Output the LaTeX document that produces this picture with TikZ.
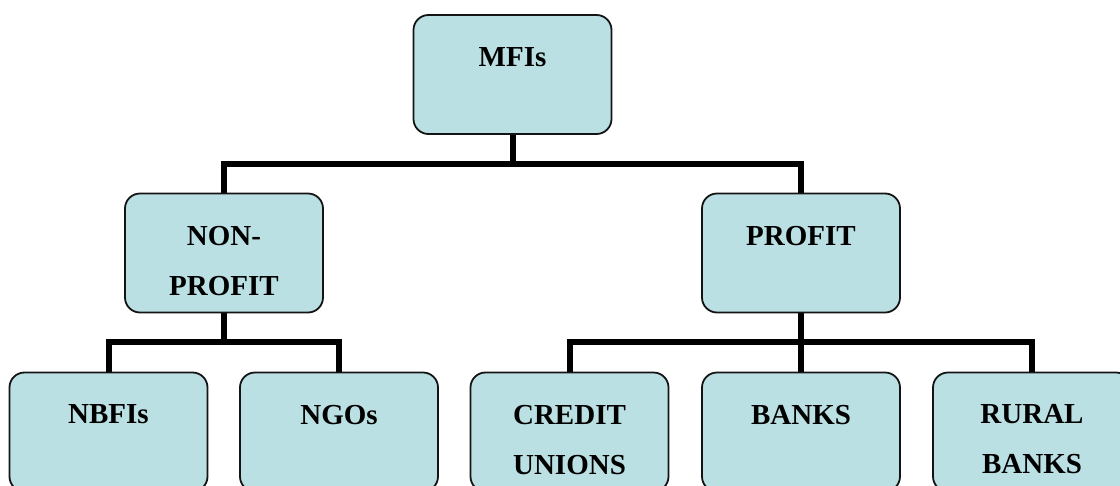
\documentclass[tikz,border=0pt]{standalone}
\usepackage{fontspec}
\setmainfont{Liberation Serif}
\definecolor{boxfill}{RGB}{187,224,227}
\definecolor{boxline}{RGB}{20,20,20}
\begin{document}
\begin{tikzpicture}[x=1pt,y=-1pt,
  orgbox/.style={draw=boxline, fill=boxfill, line width=1.8pt,
    rounded corners=15pt, minimum width=198pt, minimum height=119pt,
    inner sep=0pt},
  boxtext/.style={anchor=north, inner sep=0pt, align=center,
    font=\fontsize{29}{50}\selectfont\bfseries},
  link/.style={line width=6pt, line join=miter, black}]
  \useasboundingbox (0,0) rectangle (1120,485);
  \clip (0,0) rectangle (1120,485);

  % box centres
  \coordinate (c-mfi) at (512.5,74.5);
  \coordinate (c-np) at (224,253);
  \coordinate (c-pr) at (801,253);
  \coordinate (c-nb) at (108.5,432);
  \coordinate (c-ng) at (339,432);
  \coordinate (c-cu) at (569.5,432);
  \coordinate (c-bk) at (801,432);
  \coordinate (c-rb) at (1032,432);

  % junction points of the connectors
  \coordinate (j-top) at (512.5,163.5);
  \coordinate (j-left) at (224,342);
  \coordinate (j-right) at (801,342);

  % connectors (drawn first, boxes sit on top)
  \draw[link] (c-mfi) -- (j-top) -| (c-np);
  \draw[link] (j-top) -| (c-pr);
  \draw[link] (c-np) -- (j-left) -| (c-nb);
  \draw[link] (j-left) -| (c-ng);
  \draw[link] (c-pr) -- (j-right) -| (c-cu);
  \draw[link] (j-right) -| (c-rb);
  \draw[link] (j-right) -- (c-bk);

  % boxes
  \node[orgbox] (mfi) at (c-mfi) {};
  \node[orgbox] (np) at (c-np) {};
  \node[orgbox] (pr) at (c-pr) {};
  \node[orgbox] (nb) at (c-nb) {};
  \node[orgbox] (ng) at (c-ng) {};
  \node[orgbox] (cu) at (c-cu) {};
  \node[orgbox] (bk) at (c-bk) {};
  \node[orgbox] (rb) at (c-rb) {};

  % labels, set near the top of each box
  \node[boxtext] (t-mfi) at ([yshift=-33pt]mfi.north) {MFIs};
  \node[boxtext] (t-np) at ([yshift=-33pt]np.north) {NON-\\PROFIT};
  \node[boxtext] (t-pr) at ([yshift=-33pt]pr.north) {PROFIT};
  \node[boxtext] (t-nb) at ([yshift=-33pt]nb.north) {NBFIs};
  \node[boxtext] (t-ng) at ([yshift=-33pt]ng.north) {NGOs};
  \node[boxtext] (t-cu) at ([yshift=-33pt]cu.north) {CREDIT\\UNIONS};
  \node[boxtext] (t-bk) at ([yshift=-33pt]bk.north) {BANKS};
  \node[boxtext] (t-rb) at ([yshift=-33pt]rb.north) {RURAL\\BANKS};
\end{tikzpicture}
\end{document}
